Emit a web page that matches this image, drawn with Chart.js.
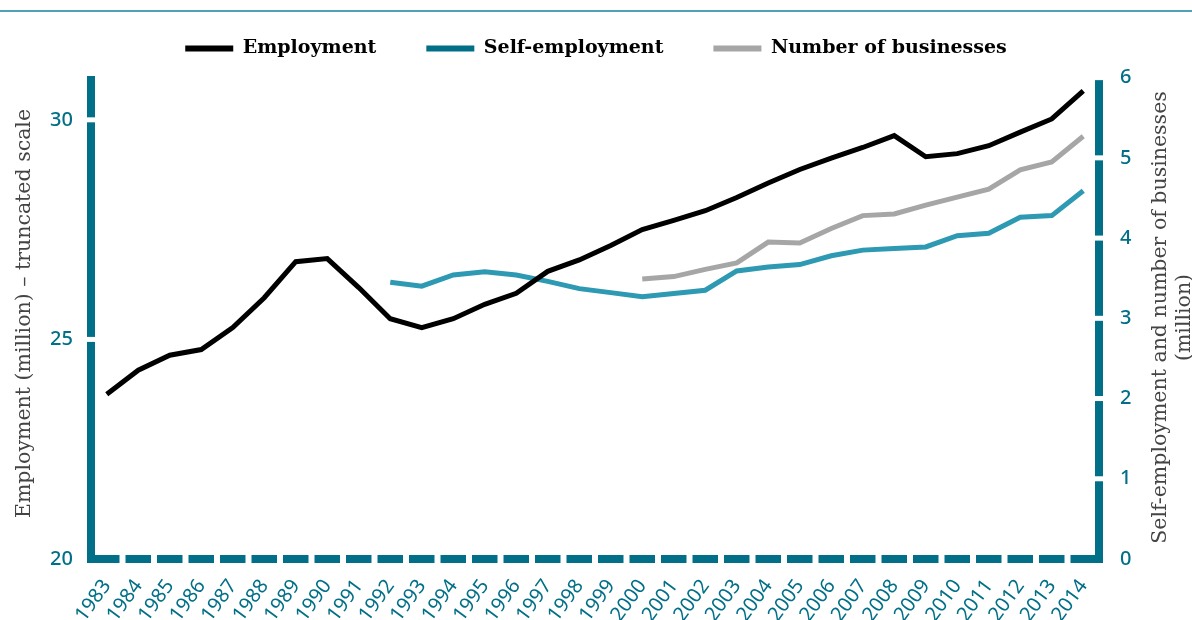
<!DOCTYPE html>
<html>
<head>
<meta charset="utf-8">
<title>Employment, self-employment and businesses</title>
<script src="https://cdn.jsdelivr.net/npm/chart.js@4.4.1/dist/chart.umd.min.js"></script>
<style>
  html, body { margin: 0; padding: 0; background: #ffffff; }
  #wrap { width: 1192px; height: 620px; }
</style>
</head>
<body>
<div id="wrap"><canvas id="myChart" width="1192" height="620"></canvas></div>
<script>
// years on the x axis
var years = ['1983', '1984', '1985', '1986', '1987', '1988', '1989', '1990', '1991', '1992',
  '1993', '1994', '1995', '1996', '1997', '1998', '1999', '2000', '2001', '2002',
  '2003', '2004', '2005', '2006', '2007', '2008', '2009', '2010', '2011', '2012',
  '2013', '2014'];

// employment, million (left axis)
var employment = [23.75, 24.30, 24.64, 24.77, 25.27, 25.95, 26.77, 26.84, 26.18, 25.47,
  25.27, 25.47, 25.80, 26.05, 26.55, 26.81, 27.14, 27.50, 27.71, 27.93,
  28.23, 28.56, 28.87, 29.13, 29.37, 29.64, 29.16, 29.23, 29.41, 29.72,
  30.02, 30.66];

// self-employment, million (right axis) - series starts in 1992
var selfEmployment = [null, null, null, null, null, null, null, null, null, 3.45,
  3.40, 3.54, 3.58, 3.54, 3.46, 3.37, 3.32, 3.27, 3.31, 3.35,
  3.59, 3.64, 3.67, 3.78, 3.85, 3.87, 3.89, 4.03, 4.06, 4.26,
  4.28, 4.59];

// number of businesses, million (right axis) - series starts in 2000
var businesses = [null, null, null, null, null, null, null, null, null, null,
  null, null, null, null, null, null, null, 3.49, 3.52, 3.61,
  3.69, 3.95, 3.94, 4.12, 4.28, 4.30, 4.41, 4.51, 4.61, 4.85,
  4.95, 5.27];

var leftTicks = [20, 25, 30];
var rightTicks = [0, 1, 2, 3, 4, 5, 6];

var teal = '#006f87';
var legendColors = ['#000000', teal, '#a6a6a6'];

// thick teal axes, broken by small white gaps at each tick / category boundary
var axisBars = {
  id: 'axisBars',
  beforeDraw: function(chart) {
    var ctx = chart.ctx;
    ctx.save();
    ctx.fillStyle = '#4fa2b3';
    ctx.fillRect(0, 10, chart.width, 2);
    ctx.restore();
  },
  afterDatasetsDraw: function(chart) {
    var ctx = chart.ctx, a = chart.chartArea, s = chart.scales;
    var w = 8, top = a.top + 8;
    ctx.save();
    ctx.fillStyle = teal;
    ctx.fillRect(a.left - w / 2, top, w, a.bottom - top + w / 2);
    ctx.fillRect(a.right - w / 2, top, w, a.bottom - top + w / 2);
    ctx.fillRect(a.left - w / 2, a.bottom - w / 2, a.right - a.left + w, w);

    ctx.fillStyle = '#ffffff';
    leftTicks.forEach(function(v) {
      if (v <= s.y.min) return;
      var py = s.y.getPixelForValue(v);
      ctx.fillRect(a.left - w, py - 2.5, w * 2, 5);
    });
    rightTicks.forEach(function(v) {
      if (v <= s.y2.min) return;
      var py = s.y2.getPixelForValue(v);
      ctx.fillRect(a.right - w, py - 2.5, w * 2, 5);
    });
    for (var i = 1; i < years.length; i++) {
      var px = (s.x.getPixelForValue(i - 1) + s.x.getPixelForValue(i)) / 2;
      ctx.fillRect(px - 3, a.bottom - w, 6, w * 2);
    }
    ctx.restore();
  },
  afterDraw: function(chart) {
    // right axis title, reading bottom to top like the left one
    var ctx = chart.ctx, a = chart.chartArea;
    var cy = (a.top + 8 + a.bottom) / 2;
    ctx.save();
    ctx.fillStyle = '#444444';
    ctx.font = '20.5px "DejaVu Serif"';
    ctx.textAlign = 'center';
    ctx.textBaseline = 'middle';
    ctx.translate(1161, cy);
    ctx.rotate(-Math.PI / 2);
    ctx.fillText('Self-employment and number of businesses', 0, 0);
    ctx.fillText('(million)', 0, 24);
    ctx.restore();
  }
};

var ctx = document.getElementById('myChart').getContext('2d');

var myChart = new Chart(ctx, {
  type: 'line',
  data: {
    labels: years,
    datasets: [{
      label: 'Employment',
      data: employment,
      borderColor: '#000000',
      yAxisID: 'y'
    }, {
      label: 'Self-employment',
      data: selfEmployment,
      borderColor: '#2e99b2',
      yAxisID: 'y2'
    }, {
      label: 'Number of businesses',
      data: businesses,
      borderColor: '#a6a6a6',
      yAxisID: 'y2'
    }]
  },
  options: {
    responsive: false,
    animation: false,
    layout: { padding: { top: -11, left: 0, right: 0, bottom: 0 } },
    elements: {
      line: { borderWidth: 5, tension: 0, borderCapStyle: 'butt', borderJoinStyle: 'miter', fill: false },
      point: { radius: 0, hoverRadius: 0 }
    },
    plugins: {
      tooltip: { enabled: false },
      legend: {
        position: 'top',
        labels: {
          boxWidth: 48,
          boxHeight: 6,
          padding: 50,
          color: '#111111',
          font: { family: '"DejaVu Serif"', size: 19, weight: 'bold' },
          generateLabels: function(chart) {
            return chart.data.datasets.map(function(ds, i) {
              return {
                text: ds.label,
                fillStyle: legendColors[i],
                strokeStyle: legendColors[i],
                lineWidth: 0,
                hidden: false,
                datasetIndex: i
              };
            });
          }
        }
      }
    },
    scales: {
      x: {
        offset: true,
        grid: { display: false, drawTicks: false },
        border: { display: false },
        ticks: {
          color: teal,
          minRotation: 54,
          maxRotation: 54,
          autoSkip: false,
          padding: 16,
          font: { family: '"Noto Sans"', size: 20 }
        },
        afterFit: function(scale) { scale.height = 61; }
      },
      y: {
        position: 'left',
        min: 20,
        max: 31.18,
        grid: { display: false, drawTicks: false },
        border: { display: false },
        ticks: {
          stepSize: 5,
          color: teal,
          padding: 18,
          font: { family: '"Noto Sans"', size: 20, weight: '500' }
        },
        afterBuildTicks: function(scale) {
          scale.ticks = leftTicks.map(function(v) { return { value: v }; });
        },
        title: {
          display: true,
          text: 'Employment (million) \u2013 truncated scale',
          color: '#444444',
          font: { family: '"DejaVu Serif"', size: 20.5 },
          padding: { top: 12, bottom: 0 }
        },
        afterFit: function(scale) { scale.width = 91; }
      },
      y2: {
        position: 'right',
        min: 0,
        max: 6.12,
        grid: { display: false, drawTicks: false },
        border: { display: false },
        ticks: {
          stepSize: 1,
          color: teal,
          padding: 21,
          font: { family: '"Noto Sans"', size: 20, weight: '500' }
        },
        afterBuildTicks: function(scale) {
          scale.ticks = rightTicks.map(function(v) { return { value: v }; });
        },
        afterFit: function(scale) { scale.width = 93; }
      }
    }
  },
  plugins: [axisBars]
});
</script>
</body>
</html>
